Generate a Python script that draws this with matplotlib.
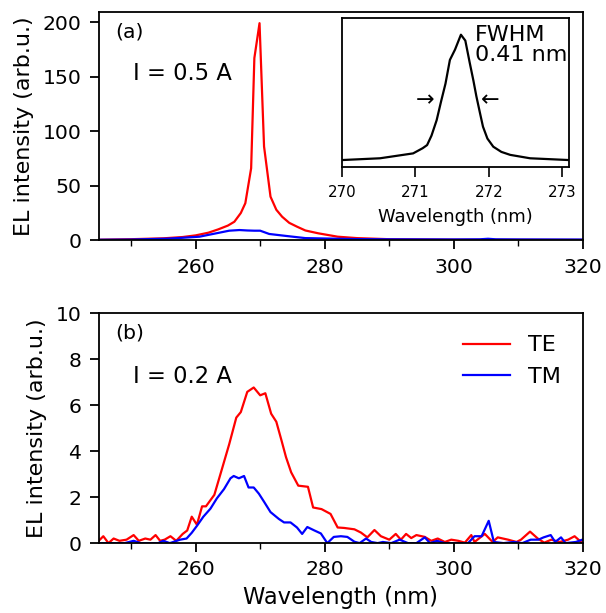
import numpy as np
import matplotlib
matplotlib.use('Agg')
import matplotlib.pyplot as plt
from matplotlib.ticker import MultipleLocator

# panel (a): I = 0.5 A
wl_a_te = [245, 250, 255, 258, 260, 262, 263.5, 265, 266, 267, 267.7, 268.6, 269.1,
           269.9, 270.6, 271.6, 272.5, 273.4, 274.5, 275.7, 277, 279, 282, 285,
           290, 300, 310, 320]
te_a = [0.5, 1, 1.8, 3, 4.5, 7, 10, 13.5, 17, 25, 34, 66, 167,
        199, 86, 40, 28, 21.6, 16, 12.5, 9, 6.4, 3.3, 2,
        1, 0.5, 0.4, 0.3]
wl_a_tm = [245, 250, 255.6, 258, 260.6, 262, 263.7, 265.2, 266.8, 268, 269.1, 270,
           271.4, 274, 277, 281.3, 285, 290, 300, 304, 305.3, 306.5, 310, 320]
tm_a = [0.5, 0.7, 1.5, 2.3, 3.3, 5, 7, 8.8, 9.4, 9.0, 8.8, 8.8,
        5.8, 4, 2, 1.5, 1.1, 0.9, 0.8, 0.9, 1.4, 0.9, 0.8, 0.7]

# inset: normalised TE spectrum
wl_in = [270, 270.52, 270.97, 271.1, 271.16, 271.22, 271.29, 271.35, 271.41, 271.47,
         271.54, 271.58, 271.62, 271.68, 271.74, 271.79, 271.83, 271.88, 271.92,
         271.98, 272.06, 272.17, 272.29, 272.56, 273.09]
te_in = [0.045, 0.057, 0.09, 0.125, 0.146, 0.21, 0.314, 0.44, 0.56, 0.72,
         0.79, 0.84, 0.89, 0.85, 0.70, 0.58, 0.475, 0.36, 0.27,
         0.19, 0.135, 0.10, 0.08, 0.057, 0.045]

# panel (b): I = 0.2 A
wl_b_te = [245, 245.7, 246.5, 247.3, 248.2, 249.3, 250.4, 251.2, 252.2, 253, 253.8,
           254.5, 255.2, 256.1, 257, 258, 258.7, 259.4, 260.2, 261, 261.6, 262.9, 264,
           265.2, 266.3, 267, 268, 269, 270, 270.8, 271.7, 272.5, 273.3, 274, 274.8,
           275.9, 277.4, 278.2, 279.5, 280.9, 282, 283, 284.6, 285.6, 286.6, 287.7,
           288.7, 290, 291, 291.8, 292.6, 293.4, 294.2, 295.5, 296.5, 297.5, 298.6,
           299.6, 300.7, 301.7, 302.7, 303.2, 304.8, 306, 306.8, 308.4, 309.7, 310.4,
           311.8, 313, 314, 315.1, 316.4, 317.7, 318.7, 319.7]
te_b = [0.1, 0.3, 0.0, 0.2, 0.1, 0.15, 0.35, 0.1, 0.2, 0.15, 0.35,
        0.1, 0.15, 0.3, 0.1, 0.4, 0.55, 1.15, 0.8, 1.6, 1.6, 2.1, 3.15,
        4.3, 5.46, 5.7, 6.58, 6.77, 6.43, 6.52, 5.63, 5.28, 4.47, 3.74, 3.08,
        2.5, 2.45, 1.55, 1.48, 1.27, 0.68, 0.66, 0.6, 0.46, 0.25, 0.57,
        0.3, 0.15, 0.4, 0.15, 0.4, 0.22, 0.35, 0.27, 0.1, 0.2, 0.05,
        0.15, 0.1, 0.02, 0.35, 0.05, 0.4, 0.05, 0.25, 0.15, 0.05, 0.15,
        0.5, 0.2, 0.02, 0.15, 0.05, 0.15, 0.3, 0.05]
wl_b_tm = [245, 247, 249, 250.4, 251.5, 253, 254.2, 255, 256, 257.6, 258.6, 259.4,
           260.2, 261.2, 262.3, 263.3, 264.4, 265.4, 265.9, 266.7, 267.5, 268.2, 269,
           269.8, 270.6, 271.6, 272.9, 273.7, 274.7, 275.7, 276.5, 277.3, 278.4, 279.4,
           280.4, 281.4, 282.5, 283.5, 284.6, 285.4, 286.4, 287.2, 288.2, 289, 290.3,
           291.6, 292.9, 294.2, 295.5, 296.3, 297.4, 298.6, 300.7, 302.2, 303.2, 304.3,
           305.4, 306.2, 307.7, 309.3, 310.6, 311.9, 313.1, 313.9, 315, 315.7, 316.6,
           317.3, 318.9, 319.9]
tm_b = [0.0, 0.0, 0.0, 0.1, 0.0, 0.0, 0.0, 0.1, 0.0, 0.15, 0.2, 0.45,
        0.75, 1.15, 1.5, 1.95, 2.35, 2.82, 2.92, 2.82, 2.92, 2.42, 2.42,
        2.15, 1.8, 1.35, 1.05, 0.9, 0.9, 0.68, 0.4, 0.7, 0.55, 0.42,
        0.0, 0.27, 0.3, 0.27, 0.06, 0.0, 0.2, 0.05, 0.0, 0.05, 0.0,
        0.15, 0.0, 0.0, 0.25, 0.0, 0.1, 0.0, 0.0, 0.0, 0.3, 0.3,
        0.97, 0.05, 0.0, 0.05, 0.0, 0.15, 0.15, 0.25, 0.35, 0.05, 0.25,
        0.0, 0.05, 0.15]

plt.rcParams['font.family'] = 'DejaVu Sans'
plt.rcParams['font.size'] = 14.7
plt.rcParams['axes.linewidth'] = 1.3


def style_axis(ax):
    ax.tick_params(which='major', length=6.5, width=1.3, labelsize=14.7, pad=6)
    ax.tick_params(which='minor', length=4, width=1.0)
    ax.xaxis.set_major_locator(MultipleLocator(20))
    ax.xaxis.set_minor_locator(MultipleLocator(10))
    ax.set_xlim(245, 320)


fig = plt.figure(figsize=(6.06, 6.13), dpi=100)
ax1 = fig.add_axes([0.163, 0.608, 0.799, 0.372])
ax2 = fig.add_axes([0.163, 0.114, 0.799, 0.375])

ax1.plot(wl_a_te, te_a, color='red', lw=1.6)
ax1.plot(wl_a_tm, tm_a, color='blue', lw=1.6)
style_axis(ax1)
ax1.set_ylim(0, 209)
ax1.yaxis.set_major_locator(MultipleLocator(50))
ax1.set_ylabel('EL intensity (arb.u.)', fontsize=16, labelpad=6)
ax1.text(0.035, 0.955, '(a)', transform=ax1.transAxes, fontsize=14.7, va='top')
ax1.text(0.07, 0.732, 'I = 0.5 A', transform=ax1.transAxes, fontsize=16.3, va='center')

ins = fig.add_axes([0.564, 0.728, 0.375, 0.242])
ins.plot(wl_in, te_in, color='black', lw=1.6)
ins.set_xlim(270, 273.09)
ins.set_ylim(0, 1)
ins.set_yticks([])
ins.xaxis.set_major_locator(MultipleLocator(1))
ins.tick_params(which='major', length=7, width=1.2, labelsize=10.8, pad=6)
ins.set_xlabel('Wavelength (nm)', fontsize=12.9, labelpad=6)
ins.text(271.81, 0.955, 'FWHM\n0.41 nm', fontsize=16, va='top', linespacing=1.0)
ins.text(271.13, 0.45, '\u2192', fontsize=16, ha='center', va='center')
ins.text(272.02, 0.45, '\u2190', fontsize=16, ha='center', va='center')

ax2.plot(wl_b_te, te_b, color='red', lw=1.6, label='TE')
ax2.plot(wl_b_tm, tm_b, color='blue', lw=1.6, label='TM')
style_axis(ax2)
ax2.set_ylim(0, 10)
ax2.yaxis.set_major_locator(MultipleLocator(2))
ax2.set_ylabel('EL intensity (arb.u.)', fontsize=16, labelpad=6)
ax2.set_xlabel('Wavelength (nm)', fontsize=16.3, labelpad=5)
ax2.text(0.035, 0.955, '(b)', transform=ax2.transAxes, fontsize=14.7, va='top')
ax2.text(0.07, 0.726, 'I = 0.2 A', transform=ax2.transAxes, fontsize=16.3, va='center')
ax2.legend(loc='upper right', frameon=False, fontsize=16, handlelength=2.1,
           borderaxespad=0.6)

fig.savefig('out.png', dpi=100)
